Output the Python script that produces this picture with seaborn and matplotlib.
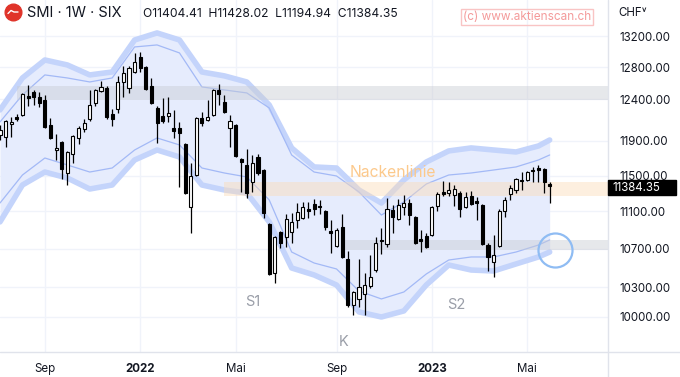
import numpy as np
import matplotlib
matplotlib.use("Agg")
import matplotlib.pyplot as plt
import seaborn as sns
from matplotlib.lines import Line2D
from matplotlib.patches import Rectangle
from matplotlib.ticker import NullLocator

# weekly candles (SMI, Jul 2021 - May 2023)
opens = [11970, 11946, 12101, 12185, 12209, 12441, 12490, 12429, 12392, 12089,
         11794, 11888, 11529, 11748, 11935, 12041, 12161, 12355, 12503, 12540,
         12221, 12282, 12614, 12540, 12739, 12930, 12802, 12564, 12294, 12197,
         12197, 12053, 12053, 11865, 11148, 11506, 12173, 12149, 12209, 12515,
         12367, 12053, 12089, 11690, 11621, 11427, 11713, 11563, 10963, 10444,
         10877, 10823, 10877, 11006, 11028, 11126, 11181, 11159, 11104, 10887,
         10726, 10931, 10590, 10119, 10180, 10230, 10311, 10475, 10791, 10748,
         11115, 11017, 11148, 11192, 11039, 10801, 10834, 10844, 11159, 11315,
         11303, 11281, 11303, 11148, 11270, 11215, 11170, 10737, 10558, 10726,
         11104, 11292, 11337, 11450, 11450, 11563, 11586, 11575, 11404.41]
highs = [12089, 12149, 12185, 12221, 12478, 12577, 12515, 12490, 12453, 12173,
         11982, 11899, 11783, 11970, 12077, 12161, 12515, 12527, 12627, 12564,
         12282, 12690, 12815, 12815, 12981, 12994, 12815, 12664, 12319, 12416,
         12429, 12270, 12125, 11876, 11644, 12185, 12245, 12392, 12527, 12590,
         12453, 12209, 12101, 11701, 11806, 11736, 11748, 11575, 10974, 10834,
         10887, 11071, 11082, 11192, 11204, 11204, 11237, 11226, 11115, 11006,
         10920, 11071, 10673, 10260, 10590, 10444, 10632, 10823, 10920, 11248,
         11170, 11237, 11281, 11237, 11049, 10898, 10865, 11159, 11315, 11439,
         11427, 11393, 11326, 11315, 11326, 11259, 11181, 10758, 10844, 11126,
         11259, 11393, 11472, 11540, 11552, 11598, 11621, 11586, 11428.02]
lows = [11911, 11829, 11946, 12137, 12197, 12319, 12331, 12307, 12053, 11923,
        11678, 11461, 11393, 11644, 11865, 12005, 12137, 12319, 12490, 12161,
        12077, 12233, 12429, 12478, 12727, 12739, 12515, 12343, 11876, 12113,
        12125, 11935, 11370, 11292, 10865, 11495, 12077, 12137, 12197, 12331,
        12233, 11829, 11713, 11315, 11248, 11315, 11506, 11028, 10424, 10341,
        10705, 10716, 10758, 10920, 11017, 11028, 11060, 11071, 10898, 10652,
        10716, 10600, 10099, 10020, 10099, 10020, 10291, 10455, 10642, 10716,
        10865, 11006, 11060, 10952, 10748, 10663, 10705, 10834, 11104, 11270,
        11270, 11159, 11039, 11137, 11170, 11006, 10737, 10465, 10403, 10716,
        11039, 11226, 11303, 11337, 11439, 11427, 11427, 11303, 11194.94]
closes = [12029, 12137, 12125, 12161, 12465, 12416, 12429, 12355, 12065, 11935,
          11817, 11575, 11771, 11958, 12053, 12113, 12331, 12515, 12552, 12185,
          12161, 12614, 12727, 12790, 12866, 12790, 12527, 12355, 12113, 12137,
          12233, 12017, 11994, 11303, 11495, 12173, 12113, 12185, 12515, 12465,
          12245, 12137, 11725, 11655, 11303, 11644, 11529, 11082, 10434, 10823,
          10758, 11017, 10985, 11093, 11148, 11104, 11126, 11148, 10931, 10865,
          10898, 10610, 10119, 10250, 10301, 10321, 10403, 10758, 10780, 11126,
          11039, 11170, 11192, 11060, 10758, 10780, 10716, 11148, 11292, 11292,
          11337, 11348, 11126, 11259, 11181, 11192, 10748, 10610, 10632, 11104,
          11226, 11359, 11461, 11439, 11540, 11552, 11563, 11427, 11384.35]

# channel lines, sampled every 4 weeks
band_week = [0, 4, 8, 12, 16, 20, 24, 28, 32, 36, 40, 44, 48, 52, 56, 60, 64,
             68, 72, 76, 80, 84, 88, 92, 96, 98]
upper_outer = [12270, 12664, 12891, 12828, 12702, 12739, 13148, 13240, 13148,
               12739, 12690, 12614, 12331, 11818, 11598, 11586, 11337, 11192,
               11450, 11655, 11783, 11818, 11794, 11771, 11841, 11911]
upper_inner = [12125, 12453, 12702, 12664, 12614, 12664, 13058, 13084, 12981,
               12552, 12515, 12478, 12294, 11736, 11540, 11495, 11315, 11060,
               11204, 11404, 11506, 11529, 11563, 11598, 11678, 11736]
lower_inner = [11192, 11506, 11701, 11621, 11540, 11586, 11794, 11935, 11853,
               11586, 11529, 11484, 11226, 10663, 10548, 10486, 10260, 10180,
               10250, 10434, 10579, 10611, 10611, 10663, 10737, 10791]
lower_outer = [10985, 11393, 11540, 11472, 11348, 11393, 11678, 11794, 11713,
               11393, 11337, 11303, 10985, 10496, 10424, 10321, 10050, 10000,
               10060, 10321, 10527, 10475, 10465, 10538, 10611, 10663]

# horizontal zones: start week, low, high
zone_start = [3, 40, 61]
zone_low = [12392, 11270, 10684]
zone_high = [12564, 11427, 10791]
zone_colors = ['#c9ccd3', '#fcdcb8', '#c9ccd3']

price_ticks = [10000, 10300, 10700, 11100, 11500, 11900, 12400, 12800, 13200]
tick_weeks = [8, 25, 42, 60, 77, 94]
tick_labels = ['Sep', '2022', 'Mai', 'Sep', '2023', 'Mai']

sns.set_style('white')
plt.rcParams['font.family'] = ['Inter', 'DejaVu Sans']

W, H = 680, 377
fig = plt.figure(figsize=(W / 100, H / 100), dpi=100)
ax = fig.add_axes([0, 25 / H, 608 / W, 352 / H])
ax.set_yscale('log')
ax.set_xlim(0, 108.4)
ax.set_ylim(9660, 13678)

week = np.arange(len(opens))
xmax = 108.4

# channel
ax.fill_between(band_week, lower_outer, upper_outer, color='#e6ecfd', lw=0, zorder=1)
for vals in (upper_outer, lower_outer):
    sns.lineplot(x=band_week, y=vals, ax=ax, color='#c4d4fb', linewidth=4,
                 solid_joinstyle='round', solid_capstyle='round', zorder=2)
for vals in (upper_inner, lower_inner):
    sns.lineplot(x=band_week, y=vals, ax=ax, color='#a3b9f6', linewidth=0.9, zorder=2)

# zones
for s, lo, hi, c in zip(zone_start, zone_low, zone_high, zone_colors):
    ax.fill_between([s, xmax], lo, hi, color=c, alpha=0.45, lw=0, zorder=2.5)

# candles
o = np.array(opens); c = np.array(closes)
up = c >= o
ax.vlines(week, lows, highs, color='black', linewidth=0.9, zorder=3)
ax.bar(week, np.abs(c - o), bottom=np.minimum(o, c), width=0.55,
       color=np.where(up, 'white', 'black'), edgecolor='black', linewidth=0.8, zorder=4)

# annotations
ax.text(62.4, 11540, 'Nackenlinie', color='#fcc98c', fontsize=11.3, va='center', ha='left', zorder=5)
for t, x, y in (('S1', 45.1, 10149), ('S2', 81.3, 10119), ('K', 61.3, 9756)):
    ax.text(x, y, t, color='#9a9ea8', fontsize=10.5, va='center', ha='center', zorder=5)
ax.plot([99.0], [10684], marker='o', ms=24.5, mfc='none', mec='#8fbcf3', mew=1.6, zorder=5)

# axes styling
ax.set_yticks(price_ticks)
ax.set_yticklabels([f'{v:.2f}' for v in price_ticks])
ax.yaxis.set_minor_locator(NullLocator())
ax.yaxis.tick_right()
ax.set_xticks(tick_weeks)
ax.set_xticklabels(tick_labels)
for lbl in ax.get_xticklabels():
    if lbl.get_text().isdigit():
        lbl.set_fontweight('bold')
ax.tick_params(axis='y', length=0, pad=8, labelsize=8.3, labelcolor='#131722')
ax.tick_params(axis='x', length=0, pad=8, labelsize=8.3, labelcolor='#131722')
ax.grid(True, color='#f0f3fa', linewidth=1)
ax.set_axisbelow(True)
for sp in ax.spines.values():
    sp.set_visible(False)
ax.set_xlabel('')
ax.set_ylabel('')

fig.add_artist(Line2D([0, 1], [1 - 352 / H] * 2, transform=fig.transFigure, color='#e0e3eb', lw=1))
fig.add_artist(Line2D([608 / W] * 2, [0, 1], transform=fig.transFigure, color='#e0e3eb', lw=1))

# header
fig.add_artist(Line2D([13 / W], [1 - 12 / H], transform=fig.transFigure, marker='o',
                      ms=12, mfc='#e0342a', mec='#e0342a'))
fig.add_artist(Line2D([8 / W, 11 / W, 14 / W, 18 / W], [1 - 13.5 / H, 1 - 10.5 / H, 1 - 12 / H, 1 - 12 / H],
                      transform=fig.transFigure, color='white', lw=1))
fig.text(27 / W, 1 - 13 / H, 'SMI · 1W · SIX', fontsize=10.5, color='#131722', va='center')
fig.text(143 / W, 1 - 14 / H, 'O11404.41  H11428.02  L11194.94  C11384.35',
         fontsize=8.7, color='#131722', va='center')
fig.text(527 / W, 1 - 17 / H, '(c) www.aktienscan.ch', fontsize=8.5, color='#f49a9a',
         ha='center', va='center',
         bbox=dict(boxstyle='square,pad=0.2', fc='none', ec='#f9c4c4', lw=1))
fig.text(618 / W, 1 - 13 / H, 'CHF˅', fontsize=8.3, color='#131722', va='center')

# last price label
fig.add_artist(Rectangle((608 / W, 1 - 195 / H), 68 / W, 15 / H, transform=fig.transFigure,
                         color='black', zorder=10))
fig.text(612 / W, 1 - 187.5 / H, '11384.35', fontsize=8.3, color='white', va='center', zorder=11)

fig.savefig('out.png', dpi=100)
